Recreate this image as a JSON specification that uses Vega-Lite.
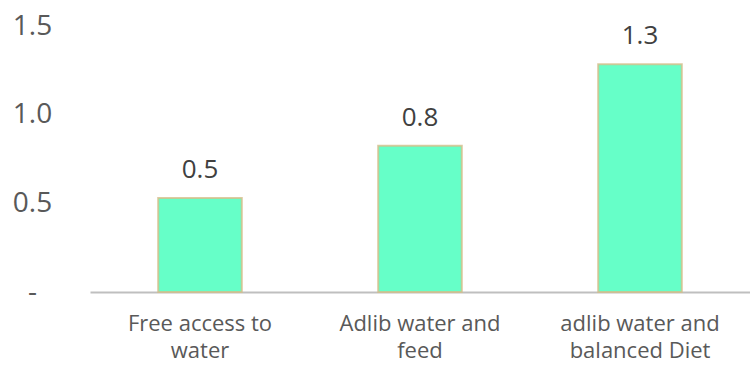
{
  "$schema": "https://vega.github.io/schema/vega-lite/v6.json",
  "width": 660,
  "height": 266,
  "autosize": {"type": "none"},
  "padding": {"left": 90, "top": 26, "right": 0, "bottom": 78},
  "background": "white",
  "config": {"view": {"stroke": null}, "font": "Open Sans"},
  "data": {"values": [
    {"group": "Free access to water", "value": 0.53},
    {"group": "Adlib water and feed", "value": 0.825},
    {"group": "adlib water and balanced Diet", "value": 1.285}
  ]},
  "encoding": {
    "x": {"field": "group", "type": "nominal", "sort": null,
      "scale": {"paddingInner": 0.62, "paddingOuter": 0.31},
      "axis": {"title": null, "labelAngle": 0, "ticks": false, "domainColor": "#BFBFBF", "domainWidth": 2,
        "labelFontSize": 22, "labelColor": "#595959", "labelPadding": 21, "labelLineHeight": 27.5, "labelBaseline": "top",
        "labelExpr": "datum.label == 'Free access to water' ? ['Free access to', 'water'] : datum.label == 'Adlib water and feed' ? ['Adlib water and', 'feed'] : ['adlib water and', 'balanced Diet']"}},
    "y": {"field": "value", "type": "quantitative",
      "scale": {"domain": [0, 1.5], "nice": false},
      "axis": {"title": null, "grid": false, "domain": false, "ticks": false, "values": [0, 0.5, 1, 1.5],
        "labelFontSize": 28, "labelColor": "#595959", "labelAlign": "center", "labelPadding": 58,
        "labelExpr": "datum.value == 0 ? '-' : format(datum.value, '.1f')"}}
  },
  "layer": [
    {"mark": {"type": "bar", "color": "#66FFC8", "stroke": "#D4BE8A", "strokeWidth": 2, "strokeOpacity": 0.8}},
    {"mark": {"type": "text", "baseline": "alphabetic", "dy": -20, "fontSize": 26, "color": "#404040"},
      "encoding": {"text": {"field": "value", "type": "quantitative", "format": ".1f"}}}
  ]
}
